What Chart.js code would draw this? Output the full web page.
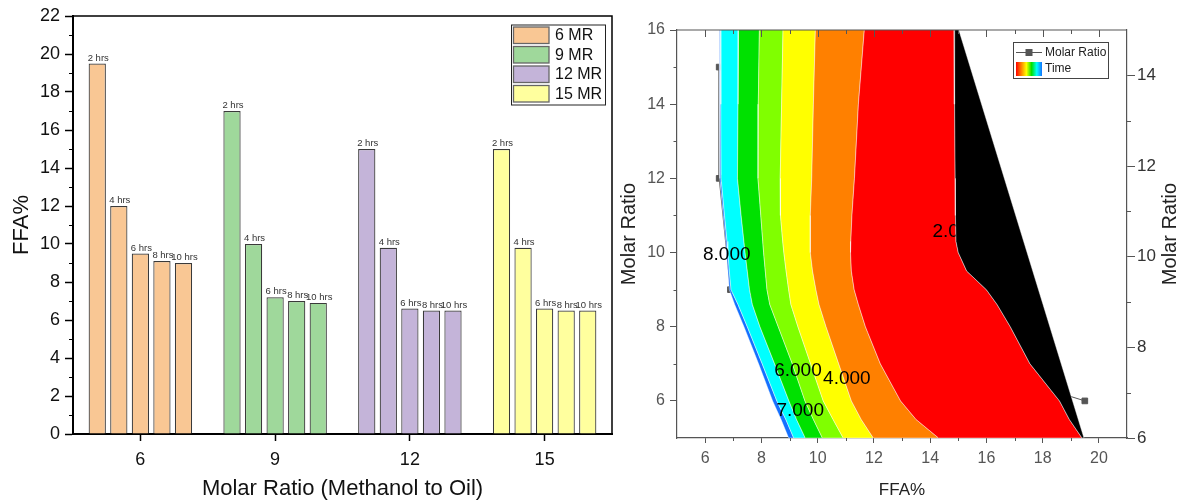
<!DOCTYPE html>
<html>
<head>
<meta charset="utf-8">
<title>FFA vs Molar Ratio</title>
<script src="https://cdn.jsdelivr.net/npm/chart.js@4.4.1/dist/chart.umd.min.js"></script>
<style>
  html, body { margin: 0; padding: 0; background: #fff; }
  body { width: 1185px; height: 502px; position: relative; overflow: hidden; }
  #barWrap { position: absolute; left: 0; top: 0; width: 615px; height: 502px; }
  #contourWrap { position: absolute; left: 615px; top: 0; width: 570px; height: 502px; }
</style>
</head>
<body>
<div id="barWrap"><canvas id="barChart" width="615" height="502"></canvas></div>
<div id="contourWrap"><canvas id="contourChart" width="570" height="502"></canvas></div>
<script>
// ---- Bar chart data (FFA% after each reaction time) ----
const molarRatios = ['6', '9', '12', '15'];
const mrLegend = ['6 MR', '9 MR', '12 MR', '15 MR'];
const timeLabels = ['2 hrs', '4 hrs', '6 hrs', '8 hrs', '10 hrs'];
const ffa2h = [19.5, 17.0, 15.0, 15.0];
const ffa4h = [12.0, 10.0, 9.8, 9.8];
const ffa6h = [9.5, 7.2, 6.6, 6.6];
const ffa8h = [9.1, 7.0, 6.5, 6.5];
const ffa10h = [9.0, 6.9, 6.5, 6.5];
const barYTicks = [0, 2, 4, 6, 8, 10, 12, 14, 16, 18, 20, 22];

// ---- Contour plot data ----
// band edges: FFA% value of each boundary at the molar ratio levels below
const contourMR = [16, 14, 12, 11, 10.3, 10, 9.5, 9, 8.6, 8, 7, 6, 5.5, 5];
const edgeWhiteBlue = [6.50, 6.52, 6.52, 6.64, 6.73, 6.76, 6.81, 6.86, 7.05, 7.38, 7.90, 8.40, 8.70, 8.97];
const edgeBlueCyan = [6.55, 6.56, 6.57, 6.69, 6.78, 6.81, 6.86, 6.92, 7.17, 7.50, 8.03, 8.55, 8.87, 9.15];
const edgeCyanGreen = [7.19, 7.17, 7.15, 7.28, 7.38, 7.42, 7.50, 7.58, 7.68, 7.95, 8.47, 8.98, 9.25, 9.56];
const edgeGreenLime = [7.93, 7.89, 7.88, 7.98, 8.05, 8.08, 8.14, 8.20, 8.30, 8.60, 9.10, 9.55, 9.85, 10.17];
const edgeLimeYellow = [8.77, 8.72, 8.67, 8.68, 8.76, 8.80, 8.88, 8.97, 9.05, 9.30, 9.75, 10.20, 10.55, 10.91];
const edgeYellowOrange = [9.92, 9.85, 9.79, 9.74, 9.74, 9.74, 9.82, 9.94, 10.05, 10.30, 10.75, 11.20, 11.55, 11.98];
const edgeOrangeRed = [11.66, 11.45, 11.31, 11.22, 11.18, 11.17, 11.20, 11.30, 11.45, 11.70, 12.23, 12.95, 13.50, 14.30];
const edgeRedBlack = [14.85, 14.87, 14.89, 14.90, 14.92, 15.00, 15.30, 16.00, 16.38, 16.85, 17.55, 18.60, 18.95, 19.40];
const edgeBlackWhite = [15.02, 19.47];
const edgeBlackWhiteMR = [16, 5];

const contourLabels = ['8.000', '6.000', '4.000', '7.000', '2.000'];
const contourLabelFFA = [6.77, 9.30, 11.04, 9.38, 14.93];
const contourLabelMR = [9.93, 6.81, 6.60, 5.73, 10.55];

const markerFFA = [6.5, 6.5, 6.9, 19.5];
const markerMR = [15, 12, 9, 6];

const ffaTicks = [6, 8, 10, 12, 14, 16, 18, 20];
const mrTicksLeft = [6, 8, 10, 12, 14, 16];
const mrTicksRight = [6, 8, 10, 12, 14];

// ---- Styles ----
const FONT = 'Arial, "Liberation Sans", sans-serif';
Chart.defaults.font.family = FONT;
const mrColors = ['#f9c794', '#9fd89b', '#c4b4d9', '#ffff9e'];
const bandColors = ['#000000', '#ff0000', '#ff8000', '#ffff00', '#80ff00', '#00e100', '#00ffff', '#1470ff'];

function setTicks(values) {
    return scale => { scale.ticks = values.map(v => ({ value: v })); };
}

function range(from, to, step) {
    const out = [];
    for (let v = from; v <= to; v += step) out.push(v);
    return out;
}

// short tick marks on a scale (minor ticks, inward top ticks)
function tickMarks(ctx, scale, values, x0, y0, dx, dy, color) {
    ctx.save();
    ctx.strokeStyle = color;
    ctx.lineWidth = 1;
    ctx.beginPath();
    values.forEach(v => {
        const p = Math.round(scale.getPixelForValue(v)) + 0.5;
        if (scale.isHorizontal()) {
            ctx.moveTo(p, y0);
            ctx.lineTo(p, y0 + dy);
        } else {
            ctx.moveTo(x0, p);
            ctx.lineTo(x0 + dx, p);
        }
    });
    ctx.stroke();
    ctx.restore();
}

// ---- Left: grouped bar chart ----
const barDecor = {
    id: 'barDecor',
    afterDatasetsDraw(chart) {
        const ctx = chart.ctx;
        ctx.save();
        ctx.font = '9.5px ' + FONT;
        ctx.fillStyle = '#333';
        ctx.textAlign = 'center';
        ctx.textBaseline = 'alphabetic';
        chart.data.datasets.forEach((ds, i) => {
            chart.getDatasetMeta(i).data.forEach(bar => {
                ctx.fillText(ds.label, bar.x + 1, bar.y - 3);
            });
        });
        ctx.restore();
    },
    afterDraw(chart) {
        const { ctx, chartArea: a, scales } = chart;
        // top and right frame
        ctx.save();
        ctx.strokeStyle = '#000';
        ctx.lineWidth = 1.5;
        ctx.beginPath();
        ctx.moveTo(a.left, a.top);
        ctx.lineTo(a.right, a.top);
        ctx.lineTo(a.right, a.bottom);
        ctx.stroke();
        ctx.restore();

        tickMarks(ctx, scales.y, range(1, 21, 2), a.left, 0, -4, 0, '#000');

        // legend box
        const bx = a.right - 101, by = a.top + 8.5;
        ctx.save();
        ctx.fillStyle = '#fff';
        ctx.fillRect(bx, by, 94, 80);
        ctx.strokeStyle = '#222';
        ctx.lineWidth = 1;
        ctx.strokeRect(bx + 0.5, by + 0.5, 94, 80);
        ctx.font = '16px ' + FONT;
        ctx.textBaseline = 'middle';
        ctx.textAlign = 'left';
        mrLegend.forEach((t, i) => {
            const y = by + 2.5 + i * 19.5;
            ctx.fillStyle = mrColors[i];
            ctx.fillRect(bx + 2.5, y, 35.5, 16.5);
            ctx.strokeStyle = '#666';
            ctx.lineWidth = 1.3;
            ctx.strokeRect(bx + 2.5, y, 35.5, 16.5);
            ctx.fillStyle = '#111';
            ctx.fillText(t, bx + 44, y + 9);
        });
        ctx.restore();
    }
};

const barSeries = [ffa2h, ffa4h, ffa6h, ffa8h, ffa10h];

new Chart(document.getElementById('barChart'), {
    type: 'bar',
    data: {
        labels: molarRatios,
        datasets: barSeries.map((vals, i) => ({
            label: timeLabels[i],
            data: vals,
            backgroundColor: mrColors,
            borderColor: '#3a3a3a',
            borderWidth: 1.2,
            categoryPercentage: 0.8,
            barPercentage: 0.8
        }))
    },
    options: {
        responsive: false,
        animation: false,
        layout: { padding: { top: 16, right: 3, left: 0, bottom: 0 } },
        plugins: { legend: { display: false }, tooltip: { enabled: false } },
        scales: {
            x: {
                grid: { drawOnChartArea: false, offset: false, tickLength: 7, tickColor: '#000', tickWidth: 1.5 },
                border: { color: '#000', width: 2 },
                ticks: { color: '#111', font: { size: 18 }, padding: 8 },
                title: { display: true, text: 'Molar Ratio (Methanol to Oil)', color: '#111', font: { size: 22 }, padding: { top: 0, bottom: 0 } },
                afterFit: s => { s.height = 68; }
            },
            y: {
                min: 0,
                max: 22,
                afterBuildTicks: setTicks(barYTicks),
                grid: { drawOnChartArea: false, tickLength: 8, tickColor: '#000', tickWidth: 1.5 },
                border: { color: '#000', width: 2 },
                ticks: { color: '#111', font: { size: 18 }, padding: 5 },
                title: { display: true, text: 'FFA%', color: '#111', font: { size: 22 }, padding: { top: 9, bottom: 0 } },
                afterFit: s => { s.width = 73; }
            }
        }
    },
    plugins: [barDecor]
});

// ---- Right: contour plot ----
function edgePoints(xs, ys) {
    return xs.map((x, i) => ({ x: x, y: ys[i] }));
}

// each band lies between a left edge and a right edge
const bands = [
    [edgeRedBlack, contourMR, edgeBlackWhite, edgeBlackWhiteMR],
    [edgeOrangeRed, contourMR, edgeRedBlack, contourMR],
    [edgeYellowOrange, contourMR, edgeOrangeRed, contourMR],
    [edgeLimeYellow, contourMR, edgeYellowOrange, contourMR],
    [edgeGreenLime, contourMR, edgeLimeYellow, contourMR],
    [edgeCyanGreen, contourMR, edgeGreenLime, contourMR],
    [edgeBlueCyan, contourMR, edgeCyanGreen, contourMR],
    [edgeWhiteBlue, contourMR, edgeBlueCyan, contourMR]
];

const bandDatasets = bands.map((b, i) => ({
    label: 'band' + i,
    data: edgePoints(b[0], b[1]).concat(edgePoints(b[2], b[3]).reverse()),
    backgroundColor: bandColors[i],
    borderColor: 'rgba(255,255,255,0.55)',
    borderWidth: 0.8,
    pointRadius: 0,
    fill: 'shape',
    order: 0
}));

const markerDataset = {
    label: 'Molar Ratio',
    data: edgePoints(markerFFA, markerMR),
    borderColor: '#555',
    borderWidth: 1,
    pointStyle: 'rect',
    pointRadius: 4,
    pointBackgroundColor: '#555',
    pointBorderColor: '#555',
    fill: false,
    order: 1
};

const contourDecor = {
    id: 'contourDecor',
    afterDatasetDraw(chart, args) {
        if (args.index !== 1) return; // labels go after the red band, under the black one
        const { ctx, scales } = chart;
        ctx.save();
        ctx.font = '19px ' + FONT;
        ctx.fillStyle = '#000';
        ctx.textAlign = 'center';
        ctx.textBaseline = 'middle';
        contourLabels.forEach((t, i) => {
            ctx.fillText(t, scales.x.getPixelForValue(contourLabelFFA[i]), scales.y.getPixelForValue(contourLabelMR[i]));
        });
        ctx.restore();
    },
    afterDraw(chart) {
        const { ctx, chartArea: a, scales } = chart;
        ctx.save();
        ctx.strokeStyle = '#555';
        ctx.lineWidth = 1.2;
        ctx.beginPath();
        ctx.moveTo(a.left, a.top);
        ctx.lineTo(a.right, a.top);
        ctx.stroke();
        ctx.restore();

        // top ticks point inwards
        tickMarks(ctx, scales.x, range(6, 20, 2), 0, a.top, 0, 7, '#555');
        tickMarks(ctx, scales.x, range(7, 19, 2), 0, a.top, 0, 4, '#555');
        // minor ticks
        tickMarks(ctx, scales.x, range(7, 19, 2), 0, a.bottom, 0, 3, '#555');
        tickMarks(ctx, scales.y, range(7, 15, 2), a.left, 0, -3.5, 0, '#555');
        tickMarks(ctx, scales.y2, range(7, 13, 2), a.right, 0, 4, 0, '#555');

        // right axis title reads bottom-to-top like the left one
        ctx.save();
        ctx.translate(chart.width - 15, (a.top + a.bottom) / 2);
        ctx.rotate(-Math.PI / 2);
        ctx.font = '20px ' + FONT;
        ctx.fillStyle = '#222';
        ctx.textAlign = 'center';
        ctx.textBaseline = 'middle';
        ctx.fillText('Molar Ratio', 0, 0);
        ctx.restore();

        // legend
        const bx = a.right - 114, by = a.top + 12;
        ctx.save();
        ctx.fillStyle = '#fff';
        ctx.fillRect(bx, by, 95, 36);
        ctx.strokeStyle = '#444';
        ctx.lineWidth = 1;
        ctx.strokeRect(bx + 0.5, by + 0.5, 95, 36);
        ctx.strokeStyle = '#555';
        ctx.beginPath();
        ctx.moveTo(bx + 3, by + 10.5);
        ctx.lineTo(bx + 29, by + 10.5);
        ctx.stroke();
        ctx.fillStyle = '#555';
        ctx.fillRect(bx + 12.5, by + 7, 7, 7);
        const grad = ctx.createLinearGradient(bx + 3, 0, bx + 29, 0);
        ['#ff0000', '#ff8000', '#ffff00', '#00e100', '#00ffff', '#1470ff'].forEach((c, i, arr) => {
            grad.addColorStop(i / (arr.length - 1), c);
        });
        ctx.fillStyle = grad;
        ctx.fillRect(bx + 3, by + 20, 26, 14);
        ctx.fillStyle = '#222';
        ctx.font = '12px ' + FONT;
        ctx.textBaseline = 'middle';
        ctx.fillText('Molar Ratio', bx + 32, by + 11);
        ctx.fillText('Time', bx + 32, by + 27);
        ctx.restore();
    }
};

new Chart(document.getElementById('contourChart'), {
    type: 'line',
    data: { datasets: bandDatasets.concat([markerDataset]) },
    options: {
        responsive: false,
        animation: false,
        layout: { padding: { top: 30, right: 0, left: 0, bottom: 0 } },
        plugins: { legend: { display: false }, tooltip: { enabled: false } },
        scales: {
            x: {
                type: 'linear',
                min: 5,
                max: 21,
                afterBuildTicks: setTicks(ffaTicks),
                grid: { drawOnChartArea: false, tickLength: 5, tickColor: '#555' },
                border: { color: '#555', width: 1.2 },
                ticks: { color: '#555', font: { size: 16 }, padding: 6 },
                title: { display: true, text: 'FFA%', color: '#222', font: { size: 17 }, padding: { top: 0, bottom: 1 } },
                afterFit: s => { s.height = 64; }
            },
            y: {
                min: 5,
                max: 16,
                afterBuildTicks: setTicks(mrTicksLeft),
                grid: { drawOnChartArea: false, tickLength: 7, tickColor: '#555' },
                border: { color: '#555', width: 1.2 },
                ticks: { color: '#555', font: { size: 16 }, padding: 5 },
                title: { display: true, text: 'Molar Ratio', color: '#222', font: { size: 20 }, padding: { top: 2, bottom: 0 } },
                afterFit: s => { s.width = 62; }
            },
            y2: {
                position: 'right',
                min: 6,
                max: 15,
                afterBuildTicks: setTicks(mrTicksRight),
                grid: { drawOnChartArea: false, tickLength: 8, tickColor: '#555' },
                border: { color: '#555', width: 1.2 },
                ticks: { color: '#333', font: { size: 17 }, padding: 2 },
                title: { display: false },
                afterFit: s => { s.width = 58; }
            }
        }
    },
    plugins: [contourDecor]
});
</script>
</body>
</html>
